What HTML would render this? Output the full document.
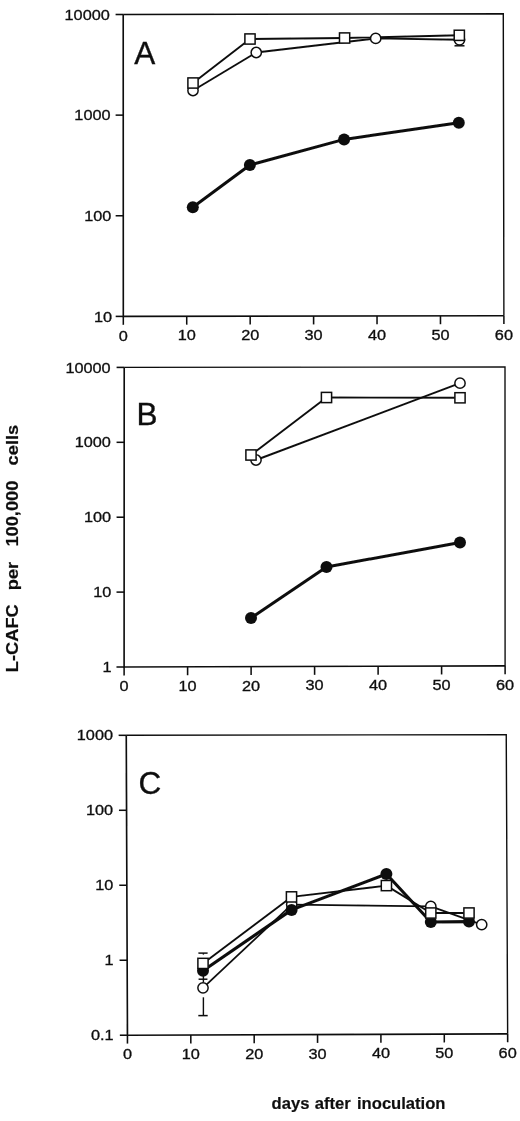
<!DOCTYPE html>
<html><head><meta charset="utf-8"><title>Figure</title>
<style>
html,body{margin:0;padding:0;background:#fff;}
svg{display:block;font-family:"Liberation Sans",sans-serif;fill:#101010;}
text{stroke:#101010;stroke-width:0.35px;}
text.b{stroke-width:0.2px;}
#all{filter:url(#soft);}
</style></head><body>
<svg width="520" height="1121" viewBox="0 0 520 1121">
<defs><filter id="soft" x="0" y="0" width="520" height="1121" filterUnits="userSpaceOnUse"><feGaussianBlur stdDeviation="0.45"/></filter></defs>
<rect width="520" height="1121" fill="#fff"/>
<g id="all">
<path d="M123.20 14.50L503.30 13.80L503.90 315.70" fill="none" stroke="#101010" stroke-width="1.4"/>
<path d="M123.20 14.50L123.30 316.40L503.90 315.70" fill="none" stroke="#101010" stroke-width="1.65"/>
<path d="M115.60 14.50H123.20" stroke="#101010" stroke-width="1.55"/>
<text transform="translate(109.80,19.60) scale(1.05,1)" text-anchor="end" font-size="15.5">10000</text>
<path d="M115.63 115.13H123.23" stroke="#101010" stroke-width="1.55"/>
<text transform="translate(110.53,120.23) scale(1.05,1)" text-anchor="end" font-size="15.5">1000</text>
<path d="M115.67 215.77H123.27" stroke="#101010" stroke-width="1.55"/>
<text transform="translate(111.27,220.87) scale(1.05,1)" text-anchor="end" font-size="15.5">100</text>
<path d="M115.70 316.40H123.30" stroke="#101010" stroke-width="1.55"/>
<text transform="translate(112.00,321.50) scale(1.05,1)" text-anchor="end" font-size="15.5">10</text>
<path d="M123.30 316.40V324.80" stroke="#101010" stroke-width="1.55"/>
<text transform="translate(123.30,340.60) scale(1.05,1)" text-anchor="middle" font-size="15.5">0</text>
<path d="M186.73 316.28V324.68" stroke="#101010" stroke-width="1.55"/>
<text transform="translate(186.73,340.48) scale(1.05,1)" text-anchor="middle" font-size="15.5">10</text>
<path d="M250.17 316.17V324.57" stroke="#101010" stroke-width="1.55"/>
<text transform="translate(250.17,340.37) scale(1.05,1)" text-anchor="middle" font-size="15.5">20</text>
<path d="M313.60 316.05V324.45" stroke="#101010" stroke-width="1.55"/>
<text transform="translate(313.60,340.25) scale(1.05,1)" text-anchor="middle" font-size="15.5">30</text>
<path d="M377.03 315.93V324.33" stroke="#101010" stroke-width="1.55"/>
<text transform="translate(377.03,340.13) scale(1.05,1)" text-anchor="middle" font-size="15.5">40</text>
<path d="M440.47 315.82V324.22" stroke="#101010" stroke-width="1.55"/>
<text transform="translate(440.47,340.02) scale(1.05,1)" text-anchor="middle" font-size="15.5">50</text>
<path d="M503.90 315.70V324.10" stroke="#101010" stroke-width="1.55"/>
<text transform="translate(503.90,339.90) scale(1.05,1)" text-anchor="middle" font-size="15.5">60</text>
<text x="134.3" y="63.9" font-size="31.5">A</text>
<path d="M193.00 90.50L256.25 52.50L375.70 38.40L459.50 39.80" fill="none" stroke="#101010" stroke-width="1.9" stroke-linejoin="round" stroke-linecap="round"/>
<path d="M193.00 83.00L250.00 39.00L344.60 38.00L459.30 35.30" fill="none" stroke="#101010" stroke-width="1.9" stroke-linejoin="round" stroke-linecap="round"/>
<path d="M192.80 207.30L249.90 165.00L344.10 139.40L458.80 122.70" fill="none" stroke="#101010" stroke-width="3.0" stroke-linejoin="round" stroke-linecap="round"/>
<path d="M459.50 40.00V45.80" stroke="#101010" stroke-width="1.4"/>
<path d="M454.50 45.80H464.50" stroke="#101010" stroke-width="1.5"/>
<circle cx="193.00" cy="90.50" r="5.15" fill="#fff" stroke="#101010" stroke-width="1.5"/>
<circle cx="256.25" cy="52.50" r="5.15" fill="#fff" stroke="#101010" stroke-width="1.5"/>
<circle cx="375.70" cy="38.40" r="5.15" fill="#fff" stroke="#101010" stroke-width="1.5"/>
<circle cx="459.50" cy="39.80" r="5.15" fill="#fff" stroke="#101010" stroke-width="1.5"/>
<circle cx="192.80" cy="207.30" r="6.0" fill="#101010"/>
<circle cx="249.90" cy="165.00" r="6.0" fill="#101010"/>
<circle cx="344.10" cy="139.40" r="6.0" fill="#101010"/>
<circle cx="458.80" cy="122.70" r="6.0" fill="#101010"/>
<rect x="187.90" y="77.90" width="10.2" height="10.2" fill="#fff" stroke="#101010" stroke-width="1.5"/>
<rect x="244.90" y="33.90" width="10.2" height="10.2" fill="#fff" stroke="#101010" stroke-width="1.5"/>
<rect x="339.50" y="32.90" width="10.2" height="10.2" fill="#fff" stroke="#101010" stroke-width="1.5"/>
<rect x="454.20" y="30.20" width="10.2" height="10.2" fill="#fff" stroke="#101010" stroke-width="1.5"/>
<path d="M124.20 367.40L505.00 367.00L505.10 665.90" fill="none" stroke="#101010" stroke-width="1.4"/>
<path d="M124.20 367.40L124.10 667.00L505.10 665.90" fill="none" stroke="#101010" stroke-width="1.65"/>
<path d="M116.60 367.40H124.20" stroke="#101010" stroke-width="1.55"/>
<text transform="translate(110.60,372.50) scale(1.05,1)" text-anchor="end" font-size="15.5">10000</text>
<path d="M116.58 442.30H124.17" stroke="#101010" stroke-width="1.55"/>
<text transform="translate(110.85,447.40) scale(1.05,1)" text-anchor="end" font-size="15.5">1000</text>
<path d="M116.55 517.20H124.15" stroke="#101010" stroke-width="1.55"/>
<text transform="translate(111.10,522.30) scale(1.05,1)" text-anchor="end" font-size="15.5">100</text>
<path d="M116.53 592.10H124.12" stroke="#101010" stroke-width="1.55"/>
<text transform="translate(111.35,597.20) scale(1.05,1)" text-anchor="end" font-size="15.5">10</text>
<path d="M116.50 667.00H124.10" stroke="#101010" stroke-width="1.55"/>
<text transform="translate(111.60,672.10) scale(1.05,1)" text-anchor="end" font-size="15.5">1</text>
<path d="M124.10 667.00V675.40" stroke="#101010" stroke-width="1.55"/>
<text transform="translate(124.10,691.00) scale(1.05,1)" text-anchor="middle" font-size="15.5">0</text>
<path d="M187.60 666.82V675.22" stroke="#101010" stroke-width="1.55"/>
<text transform="translate(187.60,690.82) scale(1.05,1)" text-anchor="middle" font-size="15.5">10</text>
<path d="M251.10 666.63V675.03" stroke="#101010" stroke-width="1.55"/>
<text transform="translate(251.10,690.63) scale(1.05,1)" text-anchor="middle" font-size="15.5">20</text>
<path d="M314.60 666.45V674.85" stroke="#101010" stroke-width="1.55"/>
<text transform="translate(314.60,690.45) scale(1.05,1)" text-anchor="middle" font-size="15.5">30</text>
<path d="M378.10 666.27V674.67" stroke="#101010" stroke-width="1.55"/>
<text transform="translate(378.10,690.27) scale(1.05,1)" text-anchor="middle" font-size="15.5">40</text>
<path d="M441.60 666.08V674.48" stroke="#101010" stroke-width="1.55"/>
<text transform="translate(441.60,690.08) scale(1.05,1)" text-anchor="middle" font-size="15.5">50</text>
<path d="M505.10 665.90V674.30" stroke="#101010" stroke-width="1.55"/>
<text transform="translate(505.10,689.90) scale(1.05,1)" text-anchor="middle" font-size="15.5">60</text>
<text x="136.6" y="424.7" font-size="31.5">B</text>
<path d="M256.00 460.00L460.00 383.20" fill="none" stroke="#101010" stroke-width="1.9" stroke-linejoin="round" stroke-linecap="round"/>
<path d="M251.00 455.00L326.50 397.50L460.00 397.80" fill="none" stroke="#101010" stroke-width="1.9" stroke-linejoin="round" stroke-linecap="round"/>
<path d="M251.00 618.00L326.50 567.00L460.00 542.50" fill="none" stroke="#101010" stroke-width="3.0" stroke-linejoin="round" stroke-linecap="round"/>
<circle cx="256.00" cy="460.00" r="5.15" fill="#fff" stroke="#101010" stroke-width="1.5"/>
<circle cx="460.00" cy="383.20" r="5.15" fill="#fff" stroke="#101010" stroke-width="1.5"/>
<circle cx="251.00" cy="618.00" r="6.0" fill="#101010"/>
<circle cx="326.50" cy="567.00" r="6.0" fill="#101010"/>
<circle cx="460.00" cy="542.50" r="6.0" fill="#101010"/>
<rect x="245.90" y="449.90" width="10.2" height="10.2" fill="#fff" stroke="#101010" stroke-width="1.5"/>
<rect x="321.40" y="392.40" width="10.2" height="10.2" fill="#fff" stroke="#101010" stroke-width="1.5"/>
<rect x="454.90" y="392.70" width="10.2" height="10.2" fill="#fff" stroke="#101010" stroke-width="1.5"/>
<path d="M126.25 735.30L506.25 734.70L507.65 1033.85" fill="none" stroke="#101010" stroke-width="1.4"/>
<path d="M126.25 735.30L127.45 1035.20L507.65 1033.85" fill="none" stroke="#101010" stroke-width="1.65"/>
<path d="M118.65 735.30H126.25" stroke="#101010" stroke-width="1.55"/>
<text transform="translate(113.00,740.40) scale(1.05,1)" text-anchor="end" font-size="15.5">1000</text>
<path d="M118.95 810.27H126.55" stroke="#101010" stroke-width="1.55"/>
<text transform="translate(113.15,815.38) scale(1.05,1)" text-anchor="end" font-size="15.5">100</text>
<path d="M119.25 885.25H126.85" stroke="#101010" stroke-width="1.55"/>
<text transform="translate(113.30,890.35) scale(1.05,1)" text-anchor="end" font-size="15.5">10</text>
<path d="M119.55 960.23H127.15" stroke="#101010" stroke-width="1.55"/>
<text transform="translate(113.45,965.33) scale(1.05,1)" text-anchor="end" font-size="15.5">1</text>
<path d="M119.85 1035.20H127.45" stroke="#101010" stroke-width="1.55"/>
<text transform="translate(113.60,1040.30) scale(1.05,1)" text-anchor="end" font-size="15.5">0.1</text>
<path d="M127.45 1035.20V1043.60" stroke="#101010" stroke-width="1.55"/>
<text transform="translate(127.45,1059.30) scale(1.05,1)" text-anchor="middle" font-size="15.5">0</text>
<path d="M190.82 1034.97V1043.38" stroke="#101010" stroke-width="1.55"/>
<text transform="translate(190.82,1059.07) scale(1.05,1)" text-anchor="middle" font-size="15.5">10</text>
<path d="M254.18 1034.75V1043.15" stroke="#101010" stroke-width="1.55"/>
<text transform="translate(254.18,1058.85) scale(1.05,1)" text-anchor="middle" font-size="15.5">20</text>
<path d="M317.55 1034.53V1042.93" stroke="#101010" stroke-width="1.55"/>
<text transform="translate(317.55,1058.62) scale(1.05,1)" text-anchor="middle" font-size="15.5">30</text>
<path d="M380.92 1034.30V1042.70" stroke="#101010" stroke-width="1.55"/>
<text transform="translate(380.92,1058.40) scale(1.05,1)" text-anchor="middle" font-size="15.5">40</text>
<path d="M444.28 1034.07V1042.47" stroke="#101010" stroke-width="1.55"/>
<text transform="translate(444.28,1058.17) scale(1.05,1)" text-anchor="middle" font-size="15.5">50</text>
<path d="M507.65 1033.85V1042.25" stroke="#101010" stroke-width="1.55"/>
<text transform="translate(507.65,1057.95) scale(1.05,1)" text-anchor="middle" font-size="15.5">60</text>
<text x="138.6" y="793.8" font-size="31.5">C</text>
<path d="M203.00 987.80L291.70 904.60L430.80 906.30L481.70 924.60" fill="none" stroke="#101010" stroke-width="1.8" stroke-linejoin="round" stroke-linecap="round"/>
<path d="M203.00 963.40L291.50 896.90L386.40 885.60L430.80 913.00L469.00 913.00" fill="none" stroke="#101010" stroke-width="1.9" stroke-linejoin="round" stroke-linecap="round"/>
<path d="M203.00 970.80L291.60 909.90L386.40 874.00L430.80 922.00L469.00 921.60" fill="none" stroke="#101010" stroke-width="3.1" stroke-linejoin="round" stroke-linecap="round"/>
<path d="M203.40 953.10V954.60" stroke="#101010" stroke-width="1.4"/>
<path d="M198.40 953.10H207.60" stroke="#101010" stroke-width="1.5"/>
<path d="M203.40 976.00V982.50" stroke="#101010" stroke-width="1.4"/>
<path d="M198.60 979.20H207.40" stroke="#101010" stroke-width="1.5"/>
<path d="M203.40 997.30V1015.60" stroke="#101010" stroke-width="1.4"/>
<path d="M198.30 1015.60H207.70" stroke="#101010" stroke-width="1.5"/>
<circle cx="203.00" cy="987.80" r="5.15" fill="#fff" stroke="#101010" stroke-width="1.5"/>
<circle cx="291.70" cy="904.60" r="5.15" fill="#fff" stroke="#101010" stroke-width="1.5"/>
<circle cx="430.80" cy="906.30" r="5.15" fill="#fff" stroke="#101010" stroke-width="1.5"/>
<circle cx="481.70" cy="924.60" r="5.15" fill="#fff" stroke="#101010" stroke-width="1.5"/>
<circle cx="203.00" cy="970.80" r="6.0" fill="#101010"/>
<circle cx="291.60" cy="909.90" r="6.0" fill="#101010"/>
<circle cx="386.40" cy="874.00" r="6.0" fill="#101010"/>
<circle cx="430.80" cy="922.00" r="6.0" fill="#101010"/>
<circle cx="469.00" cy="921.60" r="6.0" fill="#101010"/>
<rect x="197.90" y="958.30" width="10.2" height="10.2" fill="#fff" stroke="#101010" stroke-width="1.5"/>
<rect x="286.40" y="891.80" width="10.2" height="10.2" fill="#fff" stroke="#101010" stroke-width="1.5"/>
<rect x="381.30" y="880.50" width="10.2" height="10.2" fill="#fff" stroke="#101010" stroke-width="1.5"/>
<rect x="425.70" y="907.90" width="10.2" height="10.2" fill="#fff" stroke="#101010" stroke-width="1.5"/>
<rect x="463.90" y="907.90" width="10.2" height="10.2" fill="#fff" stroke="#101010" stroke-width="1.5"/>
<text class="b" x="271.6" y="1108.6" font-size="16.6" font-weight="bold">days</text>
<text class="b" x="314.8" y="1108.6" font-size="16.6" font-weight="bold">after</text>
<text class="b" x="357.0" y="1108.6" font-size="16.6" font-weight="bold">inoculation</text>
<text class="b" transform="translate(18.1,672.2) rotate(-90) scale(1.1,1)" font-size="16.6" font-weight="bold">L-CAFC</text>
<text class="b" transform="translate(18.1,590.2) rotate(-90) scale(1.1,1)" font-size="16.6" font-weight="bold">per</text>
<text class="b" transform="translate(18.1,546.6) rotate(-90) scale(1.1,1)" font-size="16.6" font-weight="bold">100,000</text>
<text class="b" transform="translate(18.1,465.4) rotate(-90) scale(1.1,1)" font-size="16.6" font-weight="bold">cells</text>
</g>
</svg>
</body></html>
